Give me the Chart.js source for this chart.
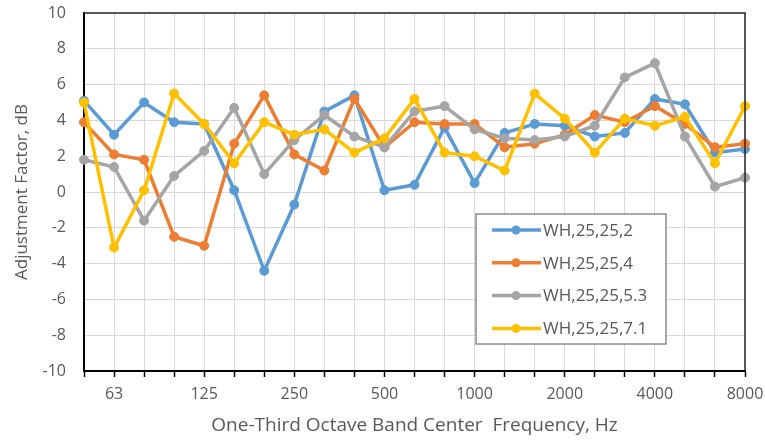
<!DOCTYPE html>
<html>
<head>
<meta charset="utf-8">
<script src="https://cdn.jsdelivr.net/npm/chart.js@4/dist/chart.umd.min.js"></script>
<style>
  html, body { margin: 0; padding: 0; background: #ffffff; }
  #wrap { width: 765px; height: 440px; position: relative; }
</style>
</head>
<body>
<div id="wrap"><canvas id="c" width="765" height="440"></canvas></div>
<script>
const categories = ['50','63','80','100','125','160','200','250','315','400','500','630','800','1000','1250','1600','2000','2500','3150','4000','5000','6300','8000'];
const shownTicks = ['63','125','250','500','1000','2000','4000','8000'];
const seriesNames = ['WH,25,25,2','WH,25,25,4','WH,25,25,5.3','WH,25,25,7.1'];
const wh2  = [5.1, 3.2, 5.0, 3.9, 3.8, 0.1, -4.4, -0.7, 4.5, 5.4, 0.1, 0.4, 3.6, 0.5, 3.3, 3.8, 3.7, 3.1, 3.3, 5.2, 4.9, 2.2, 2.4];
const wh4  = [3.9, 2.1, 1.8, -2.5, -3.0, 2.7, 5.4, 2.1, 1.2, 5.2, 2.5, 3.9, 3.8, 3.8, 2.5, 2.7, 3.2, 4.3, 3.9, 4.8, 3.8, 2.5, 2.7];
const wh53 = [1.8, 1.4, -1.6, 0.9, 2.3, 4.7, 1.0, 2.9, 4.3, 3.1, 2.5, 4.5, 4.8, 3.5, 3.0, 2.9, 3.1, 3.7, 6.4, 7.2, 3.1, 0.3, 0.8];
const wh71 = [5.0, -3.1, 0.1, 5.5, 3.8, 1.6, 3.9, 3.2, 3.5, 2.2, 3.0, 5.2, 2.2, 2.0, 1.2, 5.5, 4.1, 2.2, 4.1, 3.7, 4.2, 1.6, 4.8];
const colors = ['#5B9BD5', '#ED7D31', '#A5A5A5', '#FFC000'];
const allSeries = [wh2, wh4, wh53, wh71];

const FONT = "'Open Sans', 'Liberation Sans', sans-serif";
const TXT = '#595959';

function ds(i) {
  return {
    label: seriesNames[i],
    data: allSeries[i],
    borderColor: colors[i],
    backgroundColor: colors[i],
    pointBackgroundColor: colors[i],
    pointBorderColor: colors[i],
    borderWidth: 3.5,
    pointRadius: 4.5,
    pointBorderWidth: 1,
    tension: 0,
    order: 3 - i
  };
}

const frameAndLegend = {
  id: 'frameAndLegend',
  afterDraw(chart) {
    const ctx = chart.ctx;
    const a = chart.chartArea;
    ctx.save();
    // top and right border
    ctx.strokeStyle = '#262626';
    ctx.lineWidth = 1.5;
    ctx.beginPath();
    ctx.moveTo(a.left, a.top);
    ctx.lineTo(a.right, a.top);
    ctx.lineTo(a.right, a.bottom);
    ctx.stroke();

    // legend box
    const bx = 476, by = 214, bw = 190, bh = 130;
    ctx.fillStyle = '#ffffff';
    ctx.fillRect(bx, by, bw, bh);
    ctx.strokeStyle = '#8c8c8c';
    ctx.lineWidth = 1.5;
    ctx.strokeRect(bx, by, bw, bh);
    ctx.font = '17px ' + FONT;
    ctx.textBaseline = 'middle';
    ctx.textAlign = 'left';
    chart.data.datasets.forEach((d, i) => {
      const y = 230 + i * 32.8;
      ctx.strokeStyle = d.borderColor;
      ctx.lineWidth = 3.5;
      ctx.beginPath();
      ctx.moveTo(492, y);
      ctx.lineTo(541, y);
      ctx.stroke();
      ctx.fillStyle = d.borderColor;
      ctx.beginPath();
      ctx.arc(516, y, 4.5, 0, Math.PI * 2);
      ctx.fill();
      ctx.fillStyle = TXT;
      ctx.fillText(d.label, 543, y + 1);
    });
    ctx.restore();
  }
};

new Chart(document.getElementById('c'), {
  type: 'line',
  data: {
    labels: categories,
    datasets: [ds(0), ds(1), ds(2), ds(3)]
  },
  options: {
    responsive: false,
    animation: false,
    devicePixelRatio: 1,
    layout: { padding: { left: 0, right: 20, top: 13, bottom: 0 } },
    plugins: {
      legend: { display: false },
      tooltip: { enabled: false }
    },
    scales: {
      x: {
        type: 'category',
        offset: false,
        grid: {
          display: true,
          color: '#d9d9d9',
          lineWidth: 1,
          drawTicks: true,
          tickLength: 6,
          tickColor: '#000000',
          tickWidth: 1.5,
          offset: false
        },
        border: { display: true, color: '#000000', width: 2 },
        ticks: {
          autoSkip: false,
          maxRotation: 0,
          minRotation: 0,
          padding: 8,
          color: TXT,
          font: { family: FONT, size: 16 },
          callback: function (value, index) {
            const lbl = categories[index];
            return shownTicks.includes(lbl) ? lbl : '';
          }
        },
        title: {
          display: true,
          text: 'One-Third Octave Band Center  Frequency, Hz',
          color: TXT,
          font: { family: FONT, size: 19 },
          padding: { top: 0, bottom: 3 }
        },
        afterFit(scale) {
          scale.height = 69;
          scale.paddingLeft = 0;
          scale.paddingRight = 0;
        }
      },
      y: {
        min: -10,
        max: 10,
        grid: {
          color: '#d9d9d9',
          lineWidth: 1,
          drawTicks: false
        },
        border: { display: true, color: '#000000', width: 2 },
        ticks: {
          stepSize: 2,
          padding: 18,
          color: TXT,
          font: { family: FONT, size: 16 }
        },
        title: {
          display: true,
          text: 'Adjustment Factor, dB',
          color: TXT,
          font: { family: FONT, size: 17 },
          padding: { top: 12, bottom: 0 }
        },
        afterFit(scale) {
          scale.width = 84;
          scale.paddingTop = 0;
          scale.paddingBottom = 0;
        }
      }
    }
  },
  plugins: [frameAndLegend]
});
</script>
</body>
</html>
